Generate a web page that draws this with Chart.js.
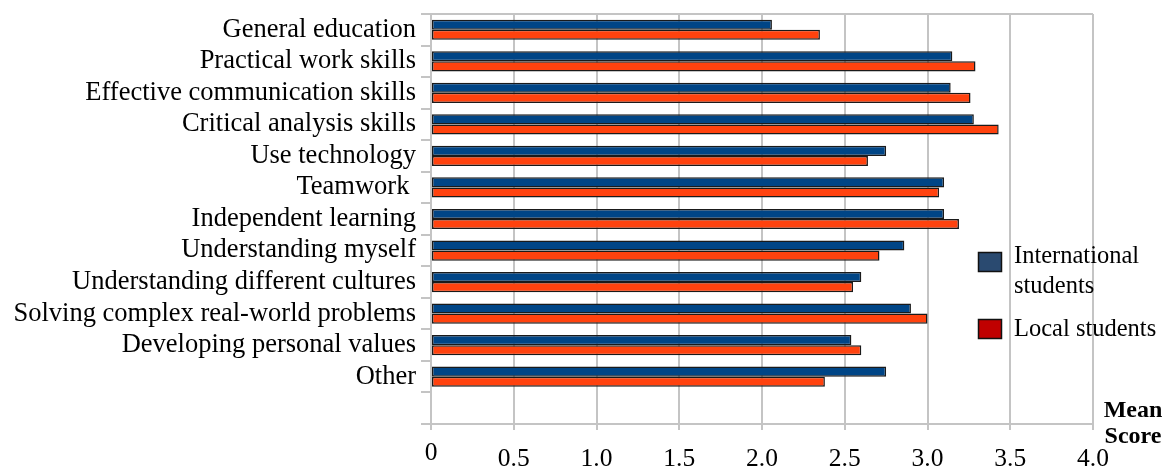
<!DOCTYPE html>
<html>
<head>
<meta charset="utf-8">
<title>Mean scores by skill area</title>
<script src="https://cdn.jsdelivr.net/npm/chart.js@4.4.1/dist/chart.umd.min.js"></script>
<style>
  html, body { margin: 0; padding: 0; background: #ffffff; }
  #wrap { width: 1170px; height: 470px; position: relative; }
</style>
</head>
<body>
<div id="wrap"><canvas id="chart" width="1170" height="470"></canvas></div>
<script>
// Skill areas, top to bottom; the final blank row leaves an empty slot above the axis.
const categories = [
  'General education',
  'Practical work skills',
  'Effective communication skills',
  'Critical analysis skills',
  'Use technology',
  'Teamwork ',
  'Independent learning',
  'Understanding myself',
  'Understanding different cultures',
  'Solving complex real-world problems',
  'Developing personal values',
  'Other',
  ''
];

// Mean scores per group (scale 0-4)
const internationalScores = [2.06, 3.15, 3.14, 3.28, 2.75, 3.10, 3.10, 2.86, 2.60, 2.90, 2.54, 2.75, null];
const localScores         = [2.35, 3.29, 3.26, 3.43, 2.64, 3.07, 3.19, 2.71, 2.55, 3.00, 2.60, 2.38, null];

const seriesNames = ['International students', 'Local students'];
const axisTickValues = [0, 0.5, 1.0, 1.5, 2.0, 2.5, 3.0, 3.5, 4.0];
const axisTitleLines = ['Mean', 'Score'];

const SERIF = '"Liberation Serif", "Times New Roman", serif';
const GRID = '#c4c4c4';

// Legend drawn inside the right edge of the plot, plus the axis caption
const sideLegend = {
  id: 'sideLegend',
  afterDraw(chart) {
    const { ctx, chartArea } = chart;
    const swatches = ['#2a4a70', '#c00000'];
    const x = chartArea.right - 115;
    ctx.save();
    ctx.font = '24.5px ' + SERIF;
    ctx.fillStyle = '#000';
    ctx.textBaseline = 'alphabetic';
    ctx.textAlign = 'left';

    // International students (wrapped over two lines)
    ctx.fillStyle = swatches[0];
    ctx.fillRect(x + 0.5, 252.5, 23, 19);
    ctx.strokeStyle = '#111';
    ctx.lineWidth = 1.5;
    ctx.strokeRect(x + 0.5, 252.5, 23, 19);
    ctx.fillStyle = '#000';
    const parts = seriesNames[0].split(' ');
    ctx.fillText(parts[0], x + 36, 263);
    ctx.fillText(parts[1], x + 36, 293);

    // Local students
    ctx.fillStyle = swatches[1];
    ctx.fillRect(x + 0.5, 319.5, 23, 19);
    ctx.strokeRect(x + 0.5, 319.5, 23, 19);
    ctx.fillStyle = '#000';
    ctx.fillText(seriesNames[1], x + 36, 336);

    // Axis caption
    ctx.font = 'bold 24px ' + SERIF;
    ctx.textAlign = 'center';
    ctx.fillText(axisTitleLines[0], chartArea.right + 40, 417);
    ctx.fillText(axisTitleLines[1], chartArea.right + 40, 443);
    ctx.restore();
  }
};

// Thin frame line along the top of the plot
const topFrame = {
  id: 'topFrame',
  beforeDatasetsDraw(chart) {
    const { ctx, chartArea } = chart;
    ctx.save();
    ctx.strokeStyle = GRID;
    ctx.lineWidth = 2;
    ctx.beginPath();
    ctx.moveTo(chartArea.left, chartArea.top);
    ctx.lineTo(chartArea.right, chartArea.top);
    ctx.stroke();
    ctx.restore();
  }
};

new Chart(document.getElementById('chart'), {
  type: 'bar',
  data: {
    labels: categories,
    datasets: [
      {
        label: seriesNames[0],
        data: internationalScores,
        backgroundColor: '#004586',
        borderColor: '#1a1a1a',
        borderWidth: 1.5,
        borderSkipped: false,
        barPercentage: 1.0,
        categoryPercentage: 0.64
      },
      {
        label: seriesNames[1],
        data: localScores,
        backgroundColor: '#ff420e',
        borderColor: '#1a1a1a',
        borderWidth: 1.5,
        borderSkipped: false,
        barPercentage: 1.0,
        categoryPercentage: 0.64
      }
    ]
  },
  options: {
    indexAxis: 'y',
    responsive: false,
    animation: false,
    devicePixelRatio: 1,
    layout: { padding: { left: 0, top: 14, right: 77, bottom: 0 } },
    plugins: {
      legend: { display: false },
      tooltip: { enabled: false }
    },
    scales: {
      x: {
        type: 'linear',
        min: 0,
        max: 4,
        afterBuildTicks(scale) {
          scale.ticks = axisTickValues.map(v => ({ value: v }));
        },
        afterFit(scale) { scale.height = 46; },
        grid: {
          color: GRID,
          lineWidth: 2,
          drawTicks: true,
          tickLength: 6,
          tickColor: GRID
        },
        border: { display: true, color: GRID, width: 2 },
        ticks: {
          color: '#000',
          padding: 14,
          maxRotation: 0,
          autoSkip: false,
          font: (ctx) => ctx.tick && ctx.tick.value === 0
            ? { family: SERIF, size: 25.5, lineHeight: 0.73 }
            : { family: SERIF, size: 25.5, lineHeight: 1.2 },
          callback: (v) => v === 0 ? '0' : Number(v).toFixed(1)
        }
      },
      y: {
        type: 'category',
        afterFit(scale) {
          scale.width = 431;
          // category rows start right at the plot edge, no extra label margin
          scale.paddingTop = 0;
          scale.paddingBottom = 0;
        },
        grid: {
          offset: true,
          drawOnChartArea: false,
          drawTicks: true,
          tickLength: 10,
          color: GRID,
          lineWidth: 2
        },
        border: { display: true, color: GRID, width: 2 },
        ticks: {
          color: '#000',
          padding: 5,
          autoSkip: false,
          font: { family: SERIF, size: 26.5 }
        }
      }
    }
  },
  plugins: [topFrame, sideLegend]
});
</script>
</body>
</html>
